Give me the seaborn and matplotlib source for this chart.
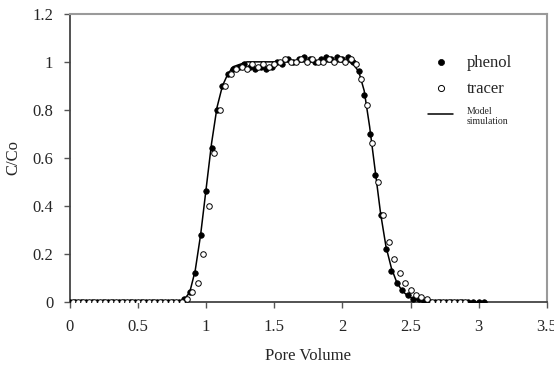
import numpy as np
import pandas as pd
import matplotlib
matplotlib.use("Agg")
import matplotlib.pyplot as plt
import seaborn as sns

# Phenol breakthrough (filled circles)
phenol_pv = [0.00, 0.04, 0.08, 0.12, 0.16, 0.20, 0.24, 0.28, 0.32, 0.36, 0.40, 0.44,
             0.48, 0.52, 0.56, 0.60, 0.64, 0.68, 0.72, 0.76, 0.80, 0.84, 0.88, 0.92,
             0.96, 1.00, 1.04, 1.08, 1.12, 1.16, 1.20, 1.24, 1.28, 1.32, 1.36, 1.40,
             1.44, 1.48, 1.52, 1.56, 1.60, 1.64, 1.68, 1.72, 1.76, 1.80, 1.84, 1.88,
             1.92, 1.96, 2.00, 2.04, 2.08, 2.12, 2.16, 2.20, 2.24, 2.28, 2.32, 2.36,
             2.40, 2.44, 2.48, 2.52, 2.56, 2.60, 2.64, 2.68, 2.72, 2.76, 2.80, 2.84,
             2.88, 2.92, 2.96, 3.00, 3.04]
phenol_c = [0.0, 0.0, 0.0, 0.0, 0.0, 0.0, 0.0, 0.0, 0.0, 0.0, 0.0, 0.0,
            0.0, 0.0, 0.0, 0.0, 0.0, 0.0, 0.0, 0.0, 0.0, 0.01, 0.04, 0.12,
            0.28, 0.46, 0.64, 0.80, 0.90, 0.95, 0.97, 0.98, 0.99, 0.98, 0.97, 0.98,
            0.97, 0.98, 1.00, 0.99, 1.01, 1.00, 1.01, 1.02, 1.01, 1.00, 1.01, 1.02,
            1.01, 1.02, 1.01, 1.02, 1.00, 0.96, 0.86, 0.70, 0.53, 0.36, 0.22, 0.13,
            0.08, 0.05, 0.03, 0.01, 0.01, 0.0, 0.0, 0.0, 0.0, 0.0, 0.0, 0.0,
            0.0, 0.0, 0.0, 0.0, 0.0]

# Tracer breakthrough (open circles)
tracer_pv = [0.02, 0.06, 0.10, 0.14, 0.18, 0.22, 0.26, 0.30, 0.34, 0.38, 0.42, 0.46,
             0.50, 0.54, 0.58, 0.62, 0.66, 0.70, 0.74, 0.78, 0.82, 0.86,
             0.90, 0.94, 0.98, 1.02, 1.06, 1.10, 1.14, 1.18, 1.22, 1.26, 1.30, 1.34,
             1.38, 1.42, 1.46, 1.50, 1.54, 1.58, 1.62, 1.66, 1.70, 1.74, 1.78, 1.82,
             1.86, 1.90, 1.94, 1.98, 2.02, 2.06, 2.10, 2.14, 2.18, 2.22, 2.26, 2.30,
             2.34, 2.38, 2.42, 2.46, 2.50, 2.54, 2.58, 2.62, 2.66, 2.70, 2.74, 2.78,
             2.82, 2.86, 2.90]
tracer_c = [0.0, 0.0, 0.0, 0.0, 0.0, 0.0, 0.0, 0.0, 0.0, 0.0, 0.0, 0.0,
            0.0, 0.0, 0.0, 0.0, 0.0, 0.0, 0.0, 0.0, 0.0, 0.01,
            0.04, 0.08, 0.20, 0.40, 0.62, 0.80, 0.90, 0.95, 0.97, 0.98, 0.97, 0.99,
            0.98, 0.99, 0.98, 0.99, 1.00, 1.01, 1.00, 1.00, 1.01, 1.00, 1.01, 1.00,
            1.00, 1.01, 1.00, 1.01, 1.00, 1.01, 0.99, 0.93, 0.82, 0.66, 0.50, 0.36,
            0.25, 0.18, 0.12, 0.08, 0.05, 0.03, 0.02, 0.01, 0.0, 0.0, 0.0, 0.0,
            0.0, 0.0, 0.0]

# Model simulation (solid line)
model_pv = [0.00, 0.80, 0.84, 0.88, 0.92, 0.96, 1.00, 1.04, 1.08, 1.12, 1.16, 1.20,
            1.25, 1.30, 1.40, 2.00, 2.05, 2.08, 2.12, 2.16, 2.20, 2.24, 2.28, 2.32,
            2.36, 2.40, 2.44, 2.48, 2.52, 2.56, 2.60, 3.05]
model_c = [0.0, 0.0, 0.01, 0.04, 0.13, 0.28, 0.47, 0.66, 0.81, 0.90, 0.95, 0.98,
           0.99, 1.0, 1.0, 1.0, 1.0, 0.99, 0.96, 0.88, 0.73, 0.55, 0.37, 0.23,
           0.14, 0.08, 0.045, 0.025, 0.012, 0.006, 0.002, 0.0]

x_ticks = [0, 0.5, 1, 1.5, 2, 2.5, 3, 3.5]
x_ticklabels = ["0", "0.5", "1", "1.5", "2", "2.5", "3", "3.5"]
y_ticks = [0, 0.2, 0.4, 0.6, 0.8, 1.0, 1.2]
y_ticklabels = ["0", "0.2", "0.4", "0.6", "0.8", "1", "1.2"]

phenol_df = pd.DataFrame({"pv": phenol_pv, "c": phenol_c})
tracer_df = pd.DataFrame({"pv": tracer_pv, "c": tracer_c})
model_df = pd.DataFrame({"pv": model_pv, "c": model_c})

sns.set_style("ticks")
plt.rcParams["font.family"] = ["Liberation Serif", "DejaVu Serif"]

fig = plt.figure(figsize=(5.54, 3.85), dpi=100)
ax = fig.add_axes([0.126, 0.216, 0.861, 0.748])

sns.lineplot(data=model_df, x="pv", y="c", color="black", linewidth=1.1,
             label="Model\nsimulation", ax=ax, zorder=2)
sns.scatterplot(data=phenol_df, x="pv", y="c", color="black", s=16,
                edgecolor="black", linewidth=0.5, label="phenol", ax=ax, zorder=3)
sns.scatterplot(data=tracer_df, x="pv", y="c", facecolor="white", s=16,
                edgecolor="black", linewidth=0.7, label="tracer", ax=ax, zorder=3)

ax.set_xlim(0, 3.5)
ax.set_ylim(0, 1.2)
ax.set_xticks(x_ticks)
ax.set_xticklabels(x_ticklabels)
ax.set_yticks(y_ticks)
ax.set_yticklabels(y_ticklabels)
ax.tick_params(axis="both", labelsize=12, length=4, width=1, color="#555555", pad=8)
ax.set_xlabel("Pore Volume", fontsize=12, labelpad=10)
ax.set_ylabel("C/Co", fontsize=12, labelpad=8)

for side in ["left", "bottom"]:
    ax.spines[side].set_color("#444444")
    ax.spines[side].set_linewidth(1.3)
for side in ["top", "right"]:
    ax.spines[side].set_visible(True)
    ax.spines[side].set_color("#9a9a9a")
    ax.spines[side].set_linewidth(1.5)

handles, labels = ax.get_legend_handles_labels()
order = [labels.index("phenol"), labels.index("tracer"), labels.index("Model\nsimulation")]
leg = ax.legend([handles[i] for i in order], [labels[i] for i in order],
                loc="upper left", bbox_to_anchor=(0.72, 0.91), frameon=False,
                fontsize=12, handlelength=1.5, labelspacing=0.6, markerscale=1.1)
leg.get_texts()[2].set_fontsize(7)

fig.savefig("out.png", dpi=100)
